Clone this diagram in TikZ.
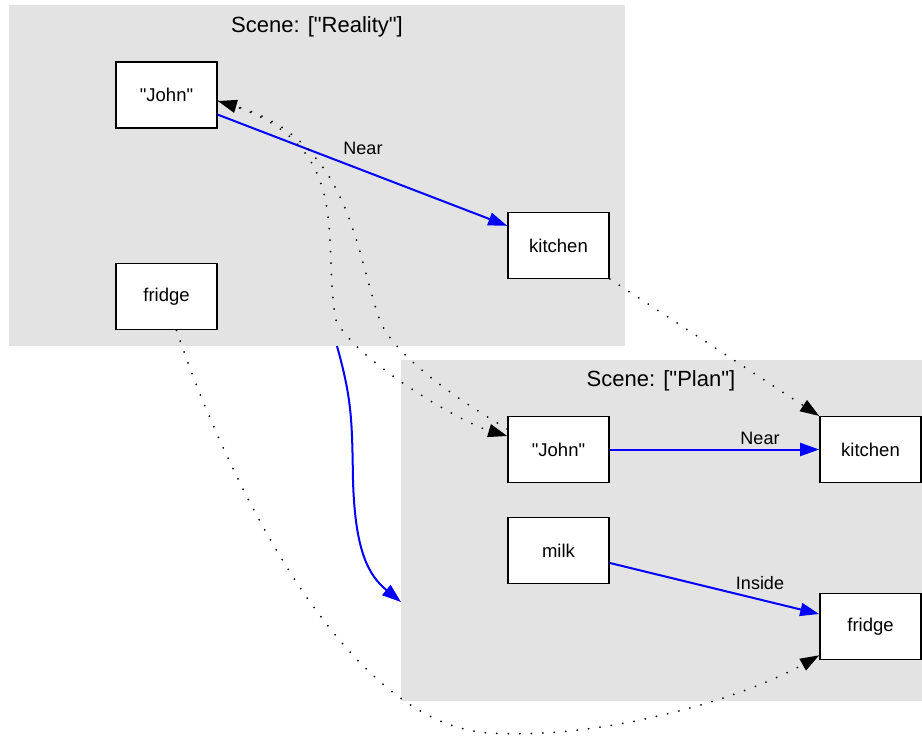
\documentclass[tikz,border=0pt]{standalone}
\usepackage{fontspec}
\setmainfont{Liberation Sans}[Ligatures=TeXOff]
\usetikzlibrary{arrows.meta,calc}
\definecolor{clgray}{RGB}{227,227,227}
\begin{document}
\begin{tikzpicture}[x=1pt,y=-1pt,
  cluster/.style={fill=clgray, draw=none, inner sep=0pt, anchor=north west},
  box/.style={draw=black, line width=1.6pt, fill=white, minimum width=101pt, minimum height=66pt, inner sep=0pt, font=\fontsize{18.5}{22}\selectfont},
  title/.style={font=\fontsize{22}{26}\selectfont, inner sep=0pt},
  lbl/.style={font=\fontsize{18}{22}\selectfont, inner sep=0pt},
  rel/.style={blue, line width=2pt, -{Triangle[length=19pt,width=13pt]}},
  link/.style={black, line width=2pt, line cap=round, dash pattern=on 0pt off 11.5pt, -{Triangle[length=19pt,width=13pt]}}
]
\useasboundingbox (0,0) rectangle (922,736);
% clusters
\node[cluster, minimum width=616pt, minimum height=341pt] (reality) at (9,5) {};
\node[cluster, minimum width=521pt, minimum height=341pt] (plan) at (401,360) {};
\node[title] (treal) at (317,27) {Scene: ["Reality"]};
\node[title] (tplan) at (661,381) {Scene: ["Plan"]};
% nodes
\node[box] (j1) at (166.5,95) {"John"};
\node[box] (k1) at (558.5,245.5) {kitchen};
\node[box] (f1) at (166.5,296.5) {fridge};
\node[box] (j2) at (558.5,449.5) {"John"};
\node[box] (k2) at (870.5,449.5) {kitchen};
\node[box] (m2) at (558.5,550.5) {milk};
\node[box] (f2) at (870.5,626.5) {fridge};
% relations
\draw[rel] (j1) -- (k1);
\node[lbl] (ln1) at (363,148) {Near};
\draw[rel] (j2) -- (k2);
\node[lbl] (ln2) at (760,438) {Near};
\draw[rel] (m2) -- (f2);
\node[lbl] (li) at (760,583) {Inside};
% compound edge
\coordinate (rb) at (337,346);
\coordinate (pl) at (401,602);
\draw[rel] (rb) .. controls (352,400) and (352,420) .. (353,480)
  .. controls (355,550) and (368,575) .. (pl);
% identity links
\draw[link] (k1) -- (k2);
\draw[link] ($(j1.east)+(0,6)$) .. controls (360,140) and (320,240) .. (336,320)
  .. controls (355,360) and (460,422) .. ($(j2.west)+(0,-13.5)$);
\draw[link] ($(j2.west)+(0,-20.5)$) .. controls (450,395) and (395,355) .. (380,321)
  .. controls (355,250) and (350,140) .. ($(j1.east)+(0,6)$);
\draw[link] ($(f1.south)+(10,0)$) .. controls (220,460) and (340,725) .. (490,733)
  .. controls (600,740) and (740,700) .. ($(f2.south west)+(0,-5)$);
\end{tikzpicture}
\end{document}
